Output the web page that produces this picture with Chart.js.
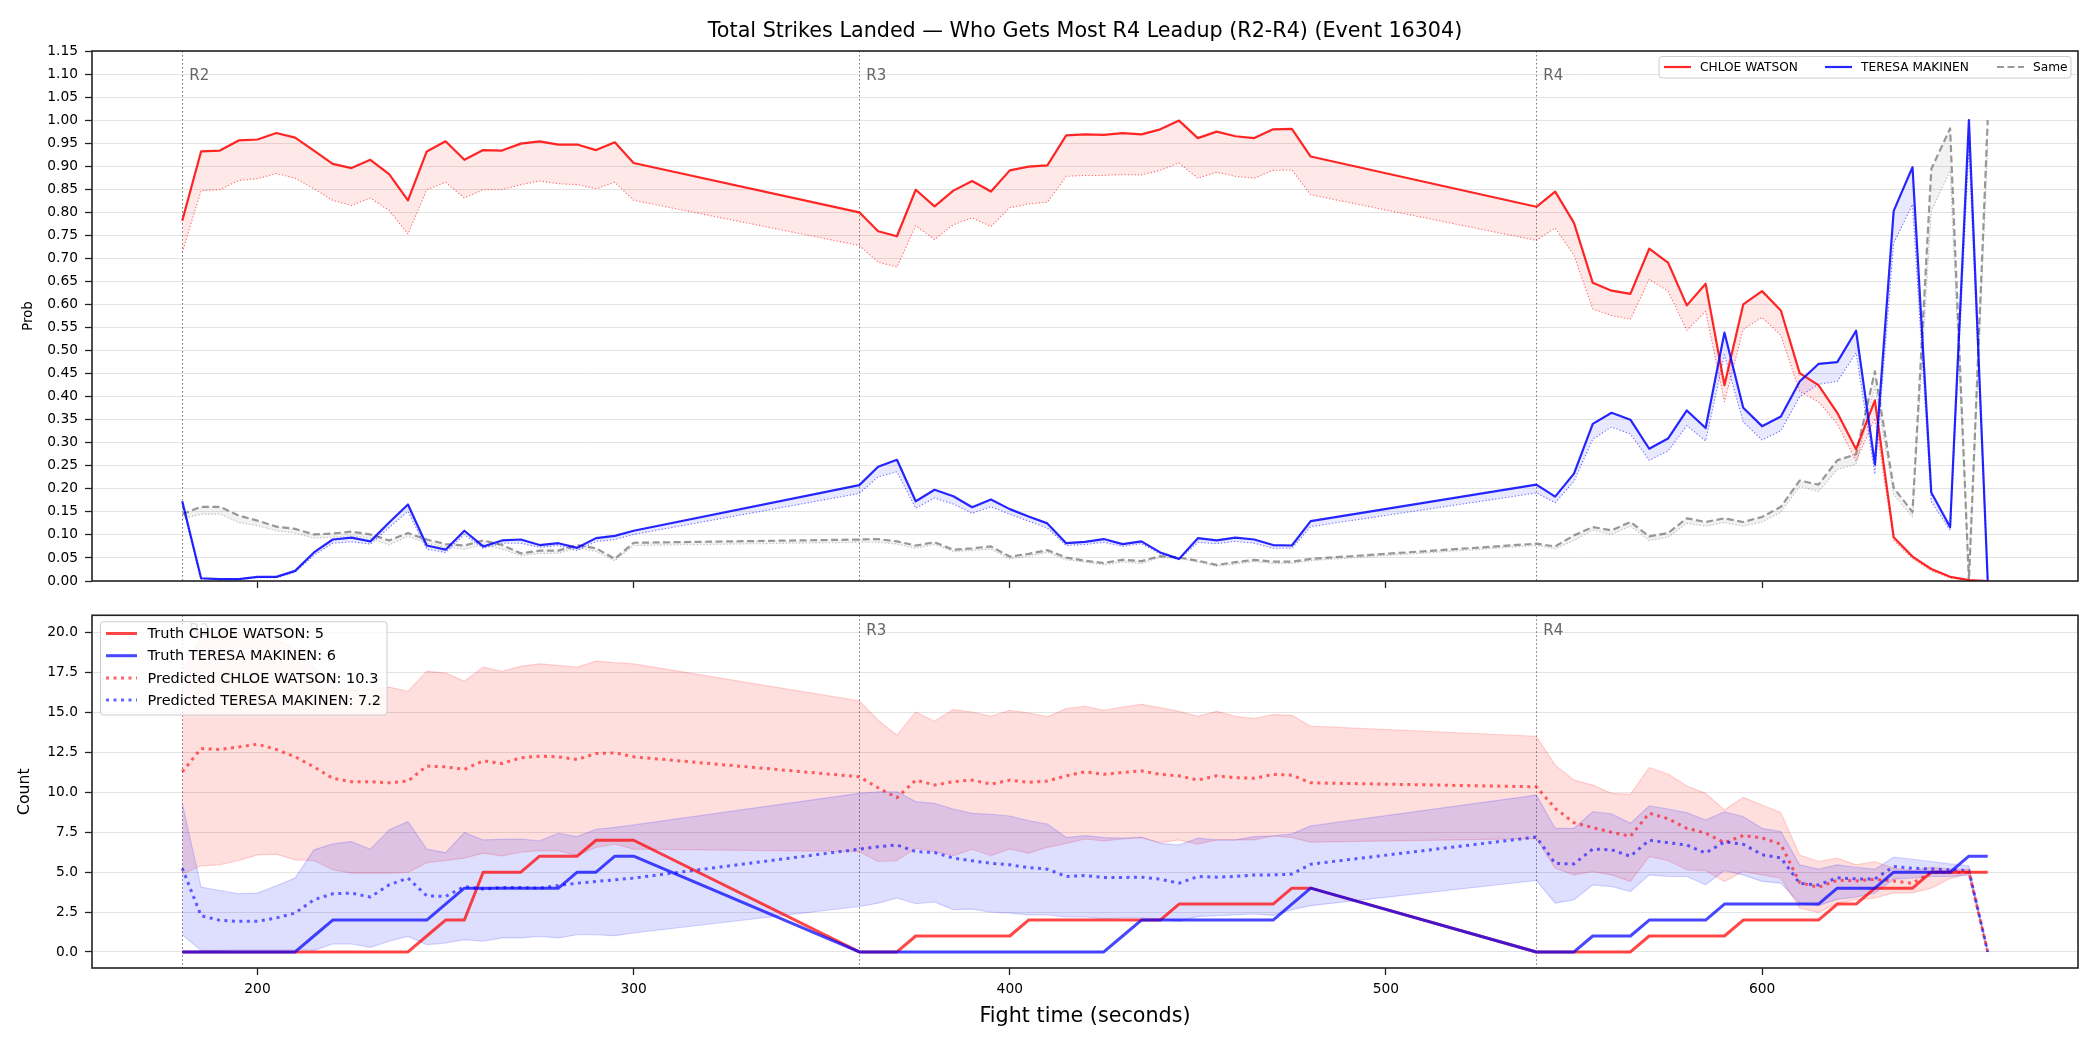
<!DOCTYPE html>
<html lang="en">
<head>
<meta charset="UTF-8">
<title>Total Strikes Landed - R4 Leadup</title>
<style>
  html, body { margin: 0; padding: 0; background: #fff; }
  #wrap { position: relative; width: 2100px; height: 1050px; background: #fff; }
  #wrap canvas { position: absolute; left: 0; }
  #probChart { top: 0; }
  #countChart { top: 600px; }
</style>
</head>
<body>
<div id="wrap">
  <canvas id="probChart" width="2100" height="600"></canvas>
  <canvas id="countChart" width="2100" height="450"></canvas>
</div>

<script src="https://cdn.jsdelivr.net/npm/chart.js@4.4.1/dist/chart.umd.min.js"></script>
<script>
const FONT = '"DejaVu Sans", sans-serif';

// fight time (s), sampled every 5s inside rounds R2, R3, R4
const times = [
  180, 185, 190, 195, 200, 205, 210, 215, 220, 225, 230, 235, 240, 245, 250, 255, 260, 265, 270, 275, 280, 285, 290, 295, 300,
  360, 365, 370, 375, 380, 385, 390, 395, 400, 405, 410, 415, 420, 425, 430, 435, 440, 445, 450, 455, 460, 465, 470, 475, 480,
  540, 545, 550, 555, 560, 565, 570, 575, 580, 585, 590, 595, 600, 605, 610, 615, 620, 625, 630, 635, 640, 645, 650, 655, 660
];
const roundStarts = [180, 360, 540];
const roundLabels = ['R2', 'R3', 'R4'];
const timeTicks = [200, 300, 400, 500, 600];
const probTicks = [0, 0.05, 0.1, 0.15, 0.2, 0.25, 0.3, 0.35, 0.4, 0.45, 0.5, 0.55, 0.6, 0.65, 0.7, 0.75, 0.8, 0.85, 0.9, 0.95, 1.0, 1.05, 1.1, 1.15];
const countTicks = [0, 2.5, 5, 7.5, 10, 12.5, 15, 17.5, 20];

// ---- top panel: probability who gets most ----
const chloeProb = [
  0.782, 0.932, 0.934, 0.956, 0.958, 0.972, 0.962, 0.934, 0.905, 0.896, 0.914, 0.883, 0.826, 0.932, 0.954, 0.914, 0.935, 0.934, 0.949, 0.954, 0.947, 0.947, 0.935, 0.952, 0.907,
  0.800, 0.759, 0.748, 0.849, 0.813, 0.847, 0.868, 0.845, 0.891, 0.899, 0.902, 0.967, 0.969, 0.968, 0.972, 0.969, 0.980, 0.999, 0.961, 0.975, 0.965, 0.961, 0.980, 0.981, 0.921,
  0.812, 0.845, 0.777, 0.647, 0.630, 0.623, 0.721, 0.691, 0.598, 0.645, 0.425, 0.600, 0.629, 0.587, 0.451, 0.425, 0.365, 0.286, 0.392, 0.095, 0.053, 0.026, 0.009, 0.002, 0.000
];
const chloeProbLow = [
  0.713, 0.847, 0.849, 0.869, 0.873, 0.884, 0.874, 0.851, 0.826, 0.815, 0.831, 0.804, 0.753, 0.849, 0.865, 0.831, 0.849, 0.849, 0.860, 0.868, 0.862, 0.860, 0.851, 0.865, 0.826,
  0.728, 0.692, 0.681, 0.771, 0.741, 0.773, 0.788, 0.769, 0.810, 0.818, 0.822, 0.878, 0.880, 0.880, 0.882, 0.881, 0.891, 0.907, 0.874, 0.887, 0.878, 0.874, 0.891, 0.892, 0.838,
  0.739, 0.766, 0.707, 0.590, 0.576, 0.568, 0.654, 0.629, 0.544, 0.585, 0.389, 0.546, 0.572, 0.533, 0.411, 0.389, 0.341, 0.260, 0.353, 0.088, 0.049, 0.022, 0.007, 0.002, 0.000
];
const teresaProb = [
  0.173, 0.006, 0.004, 0.004, 0.009, 0.009, 0.022, 0.062, 0.090, 0.094, 0.086, 0.127, 0.166, 0.077, 0.068, 0.109, 0.075, 0.088, 0.090, 0.078, 0.082, 0.072, 0.093, 0.098, 0.109,
  0.208, 0.248, 0.263, 0.173, 0.198, 0.184, 0.160, 0.177, 0.156, 0.140, 0.125, 0.082, 0.085, 0.091, 0.080, 0.086, 0.062, 0.048, 0.093, 0.088, 0.094, 0.090, 0.078, 0.077, 0.130,
  0.209, 0.183, 0.233, 0.341, 0.365, 0.350, 0.287, 0.309, 0.370, 0.332, 0.539, 0.376, 0.336, 0.357, 0.433, 0.471, 0.475, 0.543, 0.253, 0.803, 0.898, 0.192, 0.117, 1.000, 0.000
];
const teresaProbLow = [
  0.164, 0.004, 0.003, 0.003, 0.007, 0.007, 0.019, 0.056, 0.082, 0.085, 0.080, 0.116, 0.151, 0.069, 0.062, 0.101, 0.071, 0.082, 0.082, 0.073, 0.077, 0.066, 0.086, 0.090, 0.101,
  0.190, 0.226, 0.237, 0.158, 0.180, 0.167, 0.147, 0.161, 0.145, 0.130, 0.115, 0.077, 0.079, 0.084, 0.075, 0.081, 0.059, 0.046, 0.084, 0.081, 0.086, 0.082, 0.071, 0.071, 0.118,
  0.191, 0.170, 0.216, 0.308, 0.334, 0.319, 0.262, 0.282, 0.337, 0.304, 0.491, 0.345, 0.306, 0.326, 0.400, 0.427, 0.433, 0.495, 0.232, 0.733, 0.817, 0.172, 0.110, 0.942, 0.000
];
const sameProb = [
  0.145, 0.161, 0.161, 0.142, 0.131, 0.118, 0.113, 0.101, 0.103, 0.107, 0.101, 0.088, 0.104, 0.090, 0.080, 0.077, 0.088, 0.078, 0.060, 0.066, 0.066, 0.078, 0.071, 0.048, 0.083,
  0.090, 0.091, 0.086, 0.077, 0.084, 0.068, 0.071, 0.075, 0.053, 0.059, 0.067, 0.051, 0.044, 0.039, 0.046, 0.043, 0.054, 0.051, 0.044, 0.035, 0.041, 0.046, 0.042, 0.042, 0.048,
  0.081, 0.075, 0.099, 0.117, 0.110, 0.128, 0.097, 0.104, 0.136, 0.128, 0.136, 0.128, 0.139, 0.161, 0.218, 0.209, 0.262, 0.275, 0.455, 0.202, 0.150, 0.894, 0.982, 0.000, 1.000
];
const sameProbLow = [
  0.135, 0.145, 0.145, 0.127, 0.120, 0.109, 0.104, 0.093, 0.095, 0.098, 0.093, 0.078, 0.097, 0.082, 0.073, 0.069, 0.079, 0.069, 0.055, 0.060, 0.060, 0.072, 0.064, 0.044, 0.077,
  0.084, 0.084, 0.080, 0.071, 0.079, 0.064, 0.066, 0.069, 0.048, 0.054, 0.062, 0.046, 0.041, 0.035, 0.041, 0.038, 0.051, 0.049, 0.041, 0.032, 0.037, 0.042, 0.038, 0.038, 0.044,
  0.077, 0.070, 0.088, 0.110, 0.101, 0.119, 0.088, 0.095, 0.125, 0.119, 0.127, 0.119, 0.128, 0.149, 0.205, 0.194, 0.242, 0.253, 0.422, 0.187, 0.139, 0.803, 0.890, 0.000, 0.940
];

// ---- bottom panel: strike counts ----
const truthChloe = [
  0, 0, 0, 0, 0, 0, 0, 0, 0, 0, 0, 0, 0, 1, 2, 2, 5, 5, 5, 6, 6, 6, 7, 7, 7,
  0, 0, 0, 1, 1, 1, 1, 1, 1, 2, 2, 2, 2, 2, 2, 2, 2, 3, 3, 3, 3, 3, 3, 4, 4,
  0, 0, 0, 0, 0, 0, 1, 1, 1, 1, 1, 2, 2, 2, 2, 2, 3, 3, 4, 4, 4, 5, 5, 5, 5
];
const truthTeresa = [
  0, 0, 0, 0, 0, 0, 0, 1, 2, 2, 2, 2, 2, 2, 3, 4, 4, 4, 4, 4, 4, 5, 5, 6, 6,
  0, 0, 0, 0, 0, 0, 0, 0, 0, 0, 0, 0, 0, 0, 1, 2, 2, 2, 2, 2, 2, 2, 2, 3, 4,
  0, 0, 0, 1, 1, 1, 2, 2, 2, 2, 3, 3, 3, 3, 3, 3, 4, 4, 4, 5, 5, 5, 5, 6, 6
];
const predChloe = [
  11.29, 12.75, 12.69, 12.85, 13.02, 12.69, 12.23, 11.60, 10.88, 10.67, 10.67, 10.60, 10.71, 11.65, 11.60, 11.44, 11.98, 11.81, 12.17, 12.27, 12.23, 12.06, 12.44, 12.48, 12.23,
  10.98, 10.29, 9.67, 10.77, 10.46, 10.67, 10.77, 10.52, 10.77, 10.63, 10.71, 11.04, 11.29, 11.13, 11.25, 11.35, 11.13, 11.04, 10.77, 11.04, 10.92, 10.88, 11.13, 11.08, 10.60,
  10.35, 9.00, 8.10, 7.80, 7.50, 7.25, 8.70, 8.35, 7.75, 7.45, 6.85, 7.30, 7.15, 6.75, 4.35, 4.05, 4.50, 4.45, 4.55, 4.45, 4.30, 5.00, 5.00, 5.00, 0
];
const predTeresa = [
  5.25, 2.27, 1.98, 1.92, 1.92, 2.13, 2.44, 3.27, 3.65, 3.69, 3.44, 4.21, 4.63, 3.52, 3.48, 4.10, 3.94, 4.04, 4.04, 4.00, 4.17, 4.31, 4.42, 4.52, 4.63,
  6.44, 6.60, 6.71, 6.29, 6.23, 5.88, 5.71, 5.56, 5.46, 5.29, 5.19, 4.73, 4.79, 4.67, 4.67, 4.69, 4.56, 4.31, 4.73, 4.69, 4.73, 4.83, 4.83, 4.88, 5.50,
  7.20, 5.55, 5.52, 6.45, 6.40, 6.00, 7.00, 6.85, 6.70, 6.20, 6.90, 6.75, 6.10, 5.90, 4.30, 4.20, 4.65, 4.58, 4.58, 5.35, 5.25, 5.20, 5.15, 5.10, 0
];
const predChloeHi = [
  17.50, 19.80, 20.10, 20.00, 20.10, 19.60, 18.90, 17.80, 16.70, 16.40, 16.40, 16.60, 16.33, 17.60, 17.48, 16.96, 17.85, 17.58, 17.90, 18.06, 17.96, 17.85, 18.23, 18.13, 18.06,
  15.73, 14.52, 13.58, 15.04, 14.46, 15.19, 15.04, 14.77, 15.15, 14.98, 14.73, 15.25, 15.40, 15.15, 15.35, 15.52, 15.31, 15.08, 14.77, 15.08, 14.77, 14.63, 14.88, 14.83, 14.15,
  13.52, 11.71, 10.77, 10.46, 9.94, 9.88, 11.56, 11.15, 10.40, 9.94, 8.90, 9.69, 9.21, 8.73, 6.08, 5.67, 5.88, 5.46, 5.67, 5.25, 5.10, 5.30, 5.20, 5.20, 0
];
const predChloeLo = [
  4.88, 5.40, 5.46, 5.73, 6.08, 6.13, 5.77, 5.73, 5.15, 4.94, 4.94, 4.94, 4.98, 5.60, 5.73, 5.88, 6.19, 6.02, 6.25, 6.35, 6.35, 6.04, 6.56, 6.75, 6.44,
  6.29, 5.67, 5.73, 6.50, 6.29, 6.04, 6.44, 6.04, 6.46, 6.19, 6.56, 6.81, 7.08, 6.96, 7.08, 7.17, 6.85, 7.02, 6.75, 7.02, 7.02, 7.02, 7.27, 7.17, 6.88,
  7.10, 5.25, 4.83, 5.04, 4.83, 4.42, 5.98, 5.73, 5.15, 5.10, 4.42, 5.04, 4.83, 4.63, 2.75, 2.48, 3.06, 3.27, 3.38, 3.70, 3.70, 4.00, 4.60, 4.90, 0
];
const predTeresaHi = [
  9.31, 4.06, 3.85, 3.65, 3.69, 4.15, 4.63, 6.40, 6.77, 6.92, 6.44, 7.65, 8.17, 6.44, 6.23, 7.48, 7.02, 7.06, 7.08, 6.96, 7.44, 7.23, 7.69, 7.81, 7.96,
  9.94, 10.04, 10.04, 9.42, 9.31, 8.96, 8.69, 8.63, 8.52, 8.23, 8.02, 7.17, 7.29, 7.17, 7.13, 7.19, 6.81, 6.71, 7.13, 7.02, 7.02, 7.23, 7.27, 7.40, 7.90,
  9.83, 7.75, 7.75, 8.79, 8.65, 8.06, 9.15, 8.96, 8.73, 8.27, 8.79, 8.48, 7.75, 7.54, 5.46, 5.19, 5.46, 5.31, 5.19, 5.94, 5.81, 5.67, 5.52, 5.40, 0
];
const predTeresaLo = [
  1.08, 0.10, 0.10, 0.15, 0.15, 0.15, 0.15, 0.10, 0.50, 0.50, 0.29, 0.67, 0.98, 0.46, 0.56, 0.77, 0.67, 0.88, 0.88, 0.98, 0.88, 1.08, 1.08, 1.02, 1.19,
  2.85, 3.06, 3.38, 3.02, 3.13, 2.65, 2.69, 2.50, 2.44, 2.33, 2.33, 2.19, 2.19, 2.08, 2.13, 2.13, 2.08, 1.92, 2.23, 2.27, 2.33, 2.38, 2.29, 2.65, 2.90,
  4.48, 3.06, 3.27, 4.21, 4.10, 3.79, 4.83, 4.73, 4.73, 4.21, 5.10, 4.83, 4.42, 4.31, 3.06, 2.90, 3.31, 3.44, 3.69, 4.56, 4.63, 4.73, 4.73, 4.80, 0
];

const RED = 'rgba(255,0,0,0.85)';
const BLUE = 'rgba(0,0,255,0.85)';
const GRAY = 'rgba(128,128,128,0.8)';

function pts(values) {
  return times.map((t, i) => ({ x: t, y: values[i] }));
}

function line(label, values, color, width, dash, extra) {
  return Object.assign({
    label: label,
    data: pts(values),
    borderColor: color,
    borderWidth: width,
    borderDash: dash || [],
    borderJoinStyle: 'round',
    pointRadius: 0,
    tension: 0,
    fill: false
  }, extra || {});
}

function timeAxis(showLabels, height) {
  return {
    type: 'linear',
    min: 156,
    max: 684,
    afterBuildTicks: (s) => { s.ticks = timeTicks.map(v => ({ value: v })); },
    afterFit: (s) => { s.height = height; },
    border: { display: false },
    grid: { drawOnChartArea: false, drawTicks: true, tickLength: 7, tickColor: '#222', tickWidth: 1.3 },
    ticks: { display: showLabels, color: '#000', font: { family: FONT, size: 13.8 }, padding: 6, maxRotation: 0 }
  };
}

function valueAxis(min, max, tickList, digits) {
  return {
    type: 'linear',
    min: min,
    max: max,
    afterBuildTicks: (s) => { s.ticks = tickList.map(v => ({ value: v })); },
    afterFit: (s) => { s.width = 92; },
    border: { display: false },
    grid: { color: '#e3e3e3', lineWidth: 1, drawTicks: true, tickLength: 7, tickColor: '#222', tickWidth: 1.3 },
    ticks: { color: '#000', font: { family: FONT, size: 13.8 }, padding: 7, callback: (v) => Number(v).toFixed(digits) }
  };
}

function drawLegend(ctx, lg) {
  ctx.save();
  ctx.beginPath();
  if (ctx.roundRect) ctx.roundRect(lg.box[0], lg.box[1], lg.box[2], lg.box[3], 3);
  else ctx.rect(lg.box[0], lg.box[1], lg.box[2], lg.box[3]);
  ctx.fillStyle = 'rgba(255,255,255,0.8)';
  ctx.fill();
  ctx.strokeStyle = '#cccccc';
  ctx.lineWidth = 1;
  ctx.stroke();
  ctx.font = lg.font + 'px ' + FONT;
  ctx.textBaseline = 'middle';
  ctx.fillStyle = '#000';
  lg.items.forEach(it => {
    ctx.beginPath();
    ctx.strokeStyle = it.color;
    ctx.lineWidth = it.width;
    ctx.setLineDash(it.dash || []);
    ctx.moveTo(it.x, it.y);
    ctx.lineTo(it.x + lg.handle, it.y);
    ctx.stroke();
    ctx.setLineDash([]);
    ctx.fillText(it.text, it.x + lg.textOffset, it.y + 1);
  });
  ctx.restore();
}

function panelDecor(opts) {
  return {
    id: 'panelDecor',
    beforeDatasetsDraw(chart) {
      const { ctx, chartArea: a, scales: { x, y } } = chart;
      ctx.save();
      ctx.strokeStyle = 'rgba(90,90,90,0.85)';
      ctx.lineWidth = 1;
      ctx.setLineDash([1.5, 2.5]);
      roundStarts.forEach(r => {
        const px = Math.round(x.getPixelForValue(r)) + 0.5;
        ctx.beginPath();
        ctx.moveTo(px, a.top);
        ctx.lineTo(px, a.bottom);
        ctx.stroke();
      });
      ctx.setLineDash([]);
      ctx.fillStyle = '#666';
      ctx.font = '15px ' + FONT;
      ctx.textBaseline = 'middle';
      roundStarts.forEach((r, i) => {
        ctx.fillText(roundLabels[i], x.getPixelForValue(r) + 7, y.getPixelForValue(y.max * 0.95) - 1);
      });
      ctx.restore();
    },
    afterDraw(chart) {
      const { ctx, chartArea: a } = chart;
      ctx.save();
      ctx.strokeStyle = '#222';
      ctx.lineWidth = 1.6;
      ctx.strokeRect(a.left, a.top, a.right - a.left, a.bottom - a.top);

      ctx.fillStyle = '#000';
      ctx.textAlign = 'center';
      ctx.textBaseline = 'middle';
      if (opts.title) {
        ctx.font = '20.7px ' + FONT;
        ctx.fillText(opts.title, (a.left + a.right) / 2, opts.titleY);
      }
      if (opts.xLabel) {
        ctx.font = '20.7px ' + FONT;
        ctx.fillText(opts.xLabel, (a.left + a.right) / 2, opts.xLabelY);
      }
      ctx.save();
      ctx.translate(opts.yLabelX, (a.top + a.bottom) / 2);
      ctx.rotate(-Math.PI / 2);
      ctx.font = opts.yLabelSize + 'px ' + FONT;
      ctx.fillText(opts.yLabel, 0, 0);
      ctx.restore();
      ctx.restore();

      drawLegend(ctx, opts.legend);
    }
  };
}

function baseOptions(xAxis, yAxis, padding) {
  return {
    responsive: false,
    animation: false,
    devicePixelRatio: 1,
    events: [],
    layout: { padding: padding },
    plugins: { legend: { display: false }, tooltip: { enabled: false } },
    scales: { x: xAxis, y: yAxis }
  };
}

function createProbChart() {
  const ctx = document.getElementById('probChart').getContext('2d');
  new Chart(ctx, {
    type: 'line',
    data: {
      datasets: [
        line('CHLOE WATSON', chloeProb, RED, 2.2, [], { order: 1 }),
        line('CHLOE WATSON low', chloeProbLow, 'rgba(255,0,0,0.55)', 1.1, [1.3, 2], { order: 2, fill: '-1', backgroundColor: 'rgba(255,0,0,0.09)' }),
        line('TERESA MAKINEN', teresaProb, BLUE, 2.2, [], { order: 0 }),
        line('TERESA MAKINEN low', teresaProbLow, 'rgba(0,0,255,0.55)', 1.1, [1.3, 2], { order: 2, fill: '-1', backgroundColor: 'rgba(0,0,255,0.09)' }),
        line('Same', sameProb, GRAY, 2.2, [7, 3.5], { order: 3 }),
        line('Same low', sameProbLow, 'rgba(128,128,128,0.5)', 1.1, [1.3, 2], { order: 4, fill: '-1', backgroundColor: 'rgba(128,128,128,0.1)' })
      ]
    },
    options: baseOptions(timeAxis(false, 12), valueAxis(0, 1.15, probTicks, 2), { left: 0, right: 22, top: 51, bottom: 7 }),
    plugins: [panelDecor({
      title: 'Total Strikes Landed \u2014 Who Gets Most R4 Leadup (R2-R4) (Event 16304)',
      titleY: 32,
      yLabel: 'Prob', yLabelX: 28.5, yLabelSize: 13.2,
      legend: {
        box: [1659, 56.5, 412, 21.5], font: 12.2, handle: 27, textOffset: 36,
        items: [
          { text: 'CHLOE WATSON', color: RED, width: 2.2, x: 1664, y: 67 },
          { text: 'TERESA MAKINEN', color: BLUE, width: 2.2, x: 1825, y: 67 },
          { text: 'Same', color: GRAY, width: 2.2, dash: [7, 3.5], x: 1997, y: 67 }
        ]
      }
    })]
  });
}

function createCountChart() {
  const ctx = document.getElementById('countChart').getContext('2d');
  const truthRed = 'rgba(255,0,0,0.72)';
  const truthBlue = 'rgba(0,0,255,0.72)';
  const predRed = 'rgba(255,0,0,0.6)';
  const predBlue = 'rgba(0,0,255,0.6)';
  new Chart(ctx, {
    type: 'line',
    data: {
      datasets: [
        line('CHLOE band hi', predChloeHi, 'rgba(255,0,0,0.16)', 1.2, [], { order: 7 }),
        line('CHLOE band lo', predChloeLo, 'rgba(255,0,0,0.16)', 1.2, [], { order: 6, fill: '-1', backgroundColor: 'rgba(255,0,0,0.13)' }),
        line('TERESA band hi', predTeresaHi, 'rgba(0,0,255,0.16)', 1.2, [], { order: 5 }),
        line('TERESA band lo', predTeresaLo, 'rgba(0,0,255,0.16)', 1.2, [], { order: 4, fill: '-1', backgroundColor: 'rgba(0,0,255,0.13)' }),
        line('Predicted CHLOE WATSON: 10.3', predChloe, predRed, 3, [3, 4.5], { order: 3 }),
        line('Predicted TERESA MAKINEN: 7.2', predTeresa, predBlue, 3, [3, 4.5], { order: 2 }),
        line('Truth CHLOE WATSON: 5', truthChloe, truthRed, 3, [], { order: 1 }),
        line('Truth TERESA MAKINEN: 6', truthTeresa, truthBlue, 3, [], { order: 0 })
      ]
    },
    options: baseOptions(timeAxis(true, 82), valueAxis(-1.005, 21.1, countTicks, 1), { left: 0, right: 22, top: 15, bottom: 0 }),
    plugins: [panelDecor({
      xLabel: 'Fight time (seconds)', xLabelY: 417,
      yLabel: 'Count', yLabelX: 25, yLabelSize: 15.7,
      legend: {
        box: [100.5, 21.7, 286.5, 93.3], font: 14.5, handle: 31, textOffset: 41.5,
        items: [
          { text: 'Truth CHLOE WATSON: 5', color: truthRed, width: 3, x: 106, y: 33.5 },
          { text: 'Truth TERESA MAKINEN: 6', color: truthBlue, width: 3, x: 106, y: 55.7 },
          { text: 'Predicted CHLOE WATSON: 10.3', color: predRed, width: 3, dash: [3, 4.5], x: 106, y: 77.9 },
          { text: 'Predicted TERESA MAKINEN: 7.2', color: predBlue, width: 3, dash: [3, 4.5], x: 106, y: 100.1 }
        ]
      }
    })]
  });
}

createProbChart();
createCountChart();
</script>
</body>
</html>
